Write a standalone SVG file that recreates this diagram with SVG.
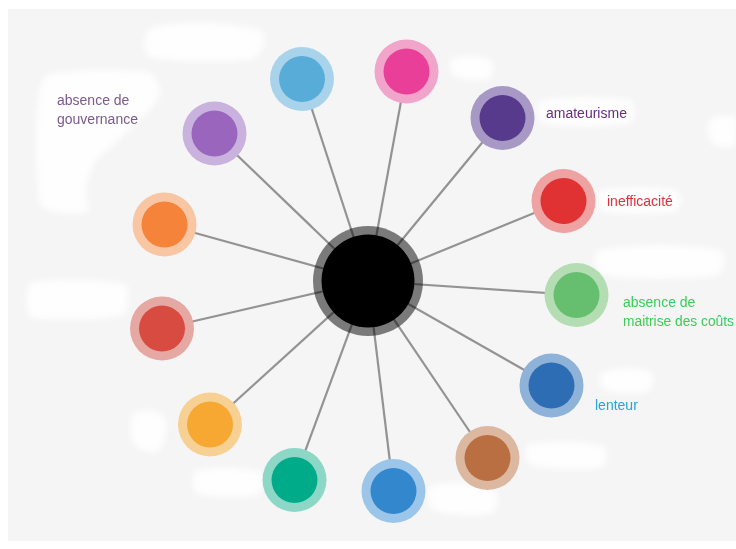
<svg xmlns="http://www.w3.org/2000/svg" width="736" height="549" viewBox="0 0 736 549">
<style>
.lbl{font-family:"Liberation Sans",Arial,sans-serif;font-size:14px}
.edge{stroke:#939393;stroke-width:2.2;fill:none}
.blob{fill:#ffffff;opacity:0.85}
</style>
<defs>
<filter id="soft" x="-20%" y="-20%" width="140%" height="140%">
<feGaussianBlur stdDeviation="3"/>
</filter>
</defs>
<rect width="736" height="549" fill="#ffffff"/>
<rect x="8" y="9" width="728" height="532" fill="#f5f5f5"/>
<g id="background-blobs" filter="url(#soft)">
<path class="blob" d="M150 28 Q200 16 262 30 Q270 50 250 60 Q200 64 150 58 Q138 44 150 28 Z"/>
<path class="blob" d="M48 74 Q100 66 150 72 Q170 90 150 110 Q120 140 96 160 Q80 190 90 212 Q60 218 40 206 Q32 150 38 100 Q40 80 48 74 Z"/>
<path class="blob" d="M30 282 Q80 276 126 284 Q132 300 124 316 Q80 322 30 318 Q22 300 30 282 Z"/>
<path class="blob" d="M134 412 Q160 406 166 420 Q168 440 158 452 Q138 454 132 440 Q128 424 134 412 Z"/>
<path class="blob" d="M196 470 Q230 464 262 472 Q266 486 258 496 Q224 500 196 494 Q188 482 196 470 Z"/>
<path class="blob" d="M528 444 Q570 438 604 446 Q610 458 602 468 Q566 472 530 466 Q522 454 528 444 Z"/>
<path class="blob" d="M430 486 Q460 478 494 488 Q502 502 492 514 Q458 518 432 510 Q424 498 430 486 Z"/>
<path class="blob" d="M598 250 Q660 240 722 250 Q728 264 718 276 Q660 282 600 276 Q590 262 598 250 Z"/>
<path class="blob" d="M602 372 Q630 364 652 372 Q656 384 648 392 Q624 396 604 390 Q596 380 602 372 Z"/>
<path class="blob" d="M452 58 Q474 52 492 60 Q496 72 488 80 Q468 82 454 76 Q446 66 452 58 Z"/>
<path class="blob" d="M710 118 Q724 114 736 116 L736 146 Q722 150 712 144 Q704 130 710 118 Z"/>
<path class="blob" d="M540 100 Q590 94 632 100 Q638 114 630 124 Q586 130 542 124 Q534 112 540 100 Z"/>
<path class="blob" d="M600 190 Q640 184 678 190 Q684 202 676 212 Q638 216 602 212 Q594 200 600 190 Z"/>
</g>
<g id="connectors">
<line class="edge" x1="368" y1="281" x2="302" y2="79"/>
<line class="edge" x1="368" y1="281" x2="406.5" y2="71.5"/>
<line class="edge" x1="368" y1="281" x2="502.5" y2="118"/>
<line class="edge" x1="368" y1="281" x2="563.5" y2="201"/>
<line class="edge" x1="368" y1="281" x2="576.5" y2="295"/>
<line class="edge" x1="368" y1="281" x2="551.5" y2="385.5"/>
<line class="edge" x1="368" y1="281" x2="487.5" y2="458"/>
<line class="edge" x1="368" y1="281" x2="393.5" y2="491"/>
<line class="edge" x1="368" y1="281" x2="294.5" y2="480"/>
<line class="edge" x1="368" y1="281" x2="210" y2="424.5"/>
<line class="edge" x1="368" y1="281" x2="162" y2="328.5"/>
<line class="edge" x1="368" y1="281" x2="164.5" y2="224.5"/>
<line class="edge" x1="368" y1="281" x2="214.5" y2="133.5"/>
</g>
<g id="center">
<circle cx="368" cy="281" r="55" fill="#000000" fill-opacity="0.5"/>
<circle cx="368" cy="281" r="46.5" fill="#000000"/>
</g>
<g id="node-lightblue">
<circle cx="302" cy="79" r="32" fill="#a9d3ea"/>
<circle cx="302" cy="79" r="23" fill="#58acd8"/>
</g>
<g id="node-pink">
<circle cx="406.5" cy="71.5" r="32" fill="#f2a5cb"/>
<circle cx="406.5" cy="71.5" r="23" fill="#ea3f98"/>
</g>
<g id="node-amateurisme">
<circle cx="502.5" cy="118" r="32" fill="#a898c6"/>
<circle cx="502.5" cy="118" r="23" fill="#573a8b"/>
<text class="lbl" x="546" y="118" fill="#6b2c7e">amateurisme</text>
</g>
<g id="node-inefficacite">
<circle cx="563.5" cy="201" r="32" fill="#eea2a2"/>
<circle cx="563.5" cy="201" r="23" fill="#e03232"/>
<text class="lbl" x="607" y="206" fill="#e0303f">inefficacité</text>
</g>
<g id="node-couts">
<circle cx="576.5" cy="295" r="32" fill="#b4ddb4"/>
<circle cx="576.5" cy="295" r="23" fill="#66bf6f"/>
<text class="lbl" x="623" y="307" fill="#3bcc5a">absence de</text>
<text class="lbl" x="623" y="326" fill="#3bcc5a" textLength="111" lengthAdjust="spacingAndGlyphs">maitrise des coûts</text>
</g>
<g id="node-lenteur">
<circle cx="551.5" cy="385.5" r="32" fill="#8eb2d8"/>
<circle cx="551.5" cy="385.5" r="23" fill="#2d6db3"/>
<text class="lbl" x="595" y="410" fill="#22a6de">lenteur</text>
</g>
<g id="node-brown">
<circle cx="487.5" cy="458" r="32" fill="#dcb8a0"/>
<circle cx="487.5" cy="458" r="23" fill="#b96f42"/>
</g>
<g id="node-blue">
<circle cx="393.5" cy="491" r="32" fill="#9bc6ea"/>
<circle cx="393.5" cy="491" r="23" fill="#3387cd"/>
</g>
<g id="node-teal">
<circle cx="294.5" cy="480" r="32" fill="#8dd7c6"/>
<circle cx="294.5" cy="480" r="23" fill="#00ab8a"/>
</g>
<g id="node-yellow">
<circle cx="210" cy="424.5" r="32" fill="#f7d193"/>
<circle cx="210" cy="424.5" r="23" fill="#f6a833"/>
</g>
<g id="node-red">
<circle cx="162" cy="328.5" r="32" fill="#e6a8a3"/>
<circle cx="162" cy="328.5" r="23" fill="#d84b40"/>
</g>
<g id="node-orange">
<circle cx="164.5" cy="224.5" r="32" fill="#f8c6a2"/>
<circle cx="164.5" cy="224.5" r="23" fill="#f58339"/>
</g>
<g id="node-gouvernance">
<circle cx="214.5" cy="133.5" r="32" fill="#c9b2de"/>
<circle cx="214.5" cy="133.5" r="23" fill="#9a66bd"/>
<text class="lbl" x="57" y="105" fill="#7b5a8c">absence de</text>
<text class="lbl" x="57" y="124" fill="#7b5a8c">gouvernance</text>
</g>
</svg>
